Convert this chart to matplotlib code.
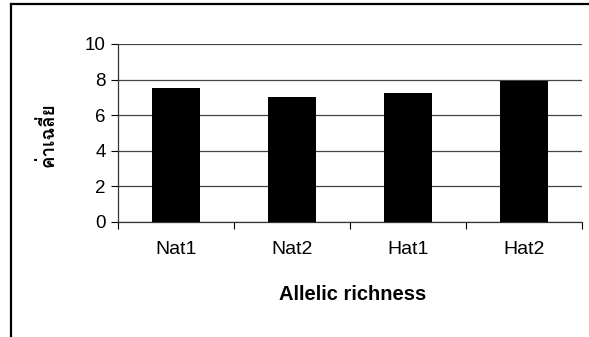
import matplotlib
matplotlib.use("Agg")
import matplotlib.pyplot as plt
from matplotlib.lines import Line2D
from matplotlib import font_manager
from matplotlib.ft2font import FT2Font

categories = ["Nat1", "Nat2", "Hat1", "Hat2"]
values = [7.55, 7.04, 7.23, 7.92]
y_ticks = [0, 2, 4, 6, 8, 10]
x_label = "Allelic richness"
y_label = "ค่าเฉลี่ย"

# find an installed family that has Thai glyphs
thai_families = []
for f in font_manager.fontManager.ttflist:
    try:
        cmap = FT2Font(f.fname).get_charmap()
    except Exception:
        continue
    if all(ord(c) in cmap for c in y_label):
        if f.name not in thai_families:
            thai_families.append(f.name)

plt.rcParams['font.family'] = ['Liberation Sans', 'DejaVu Sans']

fig = plt.figure(figsize=(5.89, 3.37), dpi=100)
ax = fig.add_axes([118/589, 1-222/337, (582-118)/589, (222-44)/337])

x = list(range(len(categories)))
ax.bar(x, values, width=0.41, color="black", zorder=3)
ax.set_xlim(-0.5, len(categories) - 0.5)
ax.set_ylim(0, 10)
ax.set_yticks(y_ticks)
ax.set_yticklabels([str(t) for t in y_ticks], fontsize=13.5)
ax.set_xticks(x)
ax.set_xticklabels(categories, fontsize=14)
ax.tick_params(axis='x', length=0, pad=14)
ax.tick_params(axis='y', length=5, width=0.8, direction='out', pad=4)
ax.set_xticks([i - 0.5 for i in range(len(categories) + 1)], minor=True)
ax.tick_params(axis='x', which='minor', length=5, width=0.8, direction='out')
ax.yaxis.grid(True, color="#444444", linewidth=0.9, zorder=0)
ax.set_axisbelow(True)
for s in ["top", "right"]:
    ax.spines[s].set_visible(False)
for s in ["left", "bottom"]:
    ax.spines[s].set_linewidth(0.9)
    ax.spines[s].set_color("#333333")

fig.text(352.5/589, 1-294/337, x_label, fontsize=14.5, fontweight="bold",
         ha="center", va="center")
fig.text(48/589, 1-135/337, y_label, rotation=90, fontsize=13.5, fontweight="bold",
         ha="center", va="center",
         family=thai_families[:3] + ['DejaVu Sans'] if thai_families else ['DejaVu Sans'])

# outer frame (clipped at right and bottom)
fig.add_artist(Line2D([10.5/589, 10.5/589], [0, 1-4/337], transform=fig.transFigure,
                      color="black", linewidth=1.6))
fig.add_artist(Line2D([10.5/589, 1], [1-4.2/337, 1-4.2/337], transform=fig.transFigure,
                      color="black", linewidth=1.6))

fig.savefig("out.png", dpi=100)
